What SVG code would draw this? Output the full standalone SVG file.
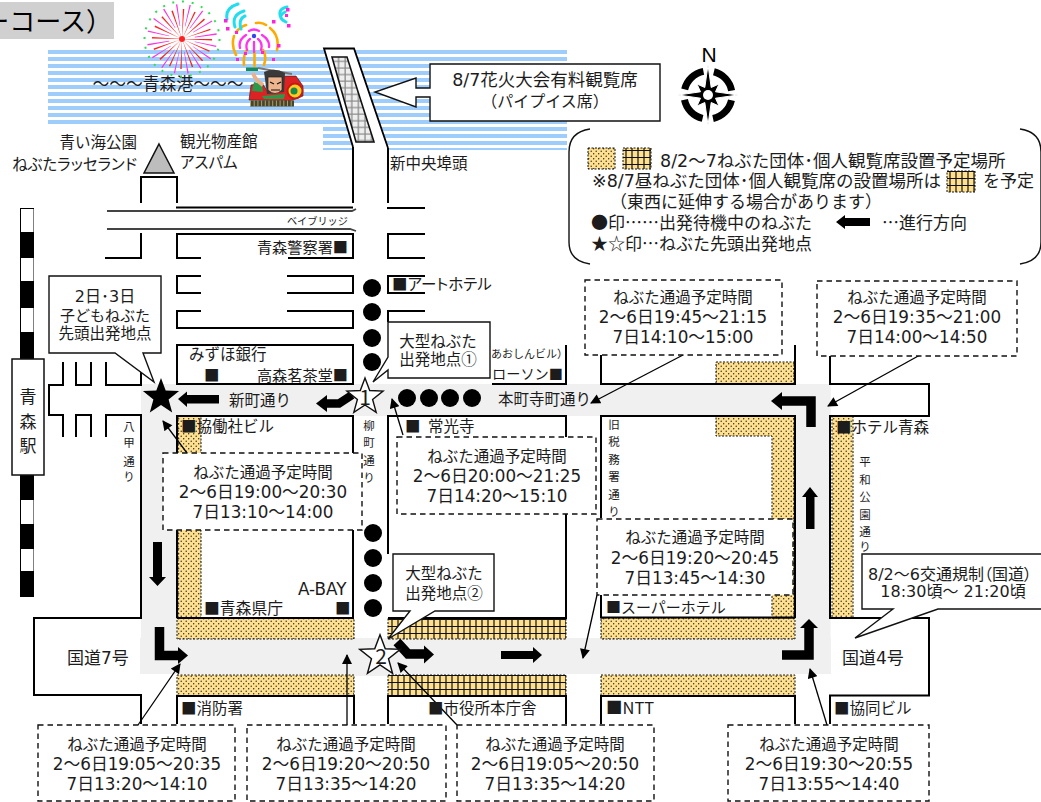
<svg xmlns="http://www.w3.org/2000/svg" xmlns:xlink="http://www.w3.org/1999/xlink" width="1041" height="802" viewBox="0 0 1041 802">
<style>
text{font-family:"Noto Sans CJK JP","Noto Sans",sans-serif;font-size:15.500px;fill:#1c1c1c}
.n{font-family:"DejaVu Sans","Noto Sans CJK JP",sans-serif;font-size:16.800px}
.p{font-feature-settings:"palt"}
.c{text-anchor:middle}
.e{text-anchor:end}
.v{font-size:11.500px;text-anchor:middle}
.l{font-size:17px}
.ln{font-size:17.500px}
.b{fill:none;stroke:#000;stroke-width:2}
.r{fill:#f0f0f0}
.d{fill:url(#dots);stroke:#111;stroke-width:1;stroke-dasharray:2 1.500}
.g{fill:url(#grid);stroke:#111;stroke-width:1;stroke-dasharray:2 1.500}
.box{fill:#fff;stroke:#111;stroke-width:1.400;stroke-dasharray:5.500 4}
.call{fill:#fff;stroke:#111;stroke-width:1.400}
.lead{fill:none;stroke:#000;stroke-width:1.300;marker-end:url(#tip)}
.arw{fill:#000}
.bent{fill:none;stroke:#000;stroke-width:9.500}
.dot{fill:#000}
</style>
<defs>
<pattern id="sea" width="10" height="7" patternUnits="userSpaceOnUse" y="1"><rect width="10" height="7" fill="#fff"/><rect y="0" width="10" height="4" fill="#9fcdfb"/></pattern>
<pattern id="dots" width="5" height="5" patternUnits="userSpaceOnUse"><rect width="5" height="5" fill="#ffe08f"/><circle cx="1.200" cy="1.200" r=".7" fill="#222"/><circle cx="3.700" cy="3.700" r=".7" fill="#222"/></pattern>
<pattern id="grid" width="6" height="7" patternUnits="userSpaceOnUse"><rect width="6" height="7" fill="#ffe08f"/><path d="M2 0V7M0 3.500H6" stroke="#111" stroke-width="1.200"/></pattern>
<pattern id="pgrid" width="6.600" height="6.600" patternUnits="userSpaceOnUse"><rect width="6.600" height="6.600" fill="#eee"/><path d="M2 0V6.600M0 2H6.600" stroke="#8a8a8a" stroke-width="1.300"/></pattern>
<marker id="tip" viewBox="0 0 10 10" refX="9" refY="5" markerWidth="11" markerHeight="10" markerUnits="userSpaceOnUse" orient="auto"><path d="M0 0L10 5L0 10Z" fill="#000"/></marker>
<polygon id="star" points="0,-19 4.700,-6.500 18.100,-5.900 7.600,2.500 11.200,15.400 0,8 -11.200,15.400 -7.600,2.500 -18.100,-5.900 -4.700,-6.500"/>
</defs>

<g id="title"><rect x="0" y="2" width="114" height="37" fill="#d0d0d0"/><text x="112" y="31" class="e" style="font-size:26px;fill:#000">ーコース）</text></g>

<g id="harbour">
<path d="M48 48H567V150H323V127H48Z" fill="url(#sea)"/>
<path d="M324 48.500H354L388 148V160H353V147Z" fill="#fff" stroke="none"/>
<path d="M353 147L324 48.500H354L388 148" fill="none" stroke="#000" stroke-width="1.800"/>
<polygon points="332,57 347,57 374,142 356,142" fill="url(#pgrid)" stroke="#111" stroke-width="1.600"/>
<text x="168" y="90" class="c" style="font-size:16.800px">～～～青森港～～～</text>
</g>

<g id="fireworks">
<circle cx="182" cy="39" r="16.500" fill="none" stroke="#ff2020" stroke-width="27" stroke-dasharray=".8 5.680"/>
<circle cx="182" cy="39" r="24" fill="none" stroke="#ff33e0" stroke-width="22" stroke-dasharray=".9 8.520" transform="rotate(11 182 39)"/>
<circle cx="182" cy="39" r="37.500" fill="none" stroke="#33dd55" stroke-width="2" stroke-dasharray="2 7.800"/>
<circle cx="182" cy="39" r="3" fill="#ff2020"/>
<g fill="none" stroke="#ffaa00" stroke-width="2.600" stroke-linecap="round">
<path d="M236 55Q231 46 234 36M236 32Q240 27 246 25M256 23Q262 22 266 25M270 28Q280 36 277 50M244 65Q243 55 247 50M254.500 66V52M264 65Q267 56 263 50"/></g>
<g fill="none" stroke="#ff33ee" stroke-width="2.300" stroke-linecap="round">
<path d="M240 48Q238 40 246 35M247 50Q245 43 250 39M254 52V42M261 50Q263 43 258 39M269 47Q270 40 262 35M249 31Q254 28 259 31"/></g>
<circle cx="254" cy="36" r="2.200" fill="#3344ee"/>
<g fill="none" stroke="#22ddee" stroke-width="3" stroke-linecap="round">
<path d="M227 19Q225 8 238 4M235 27Q231 15 244 11M241 29Q238 19 245 16M281 18Q277 9 287 7M286 22Q276 17 285 12"/></g>
<g fill="#ff22dd"><rect x="224" y="19" width="3.500" height="3.500"/><rect x="226" y="27" width="3.500" height="3.500"/><rect x="235" y="31" width="3" height="3"/><rect x="272" y="20" width="3.500" height="3.500"/><rect x="287" y="24" width="3.500" height="3.500"/><rect x="286" y="8" width="3.500" height="3.500"/><rect x="285" y="14" width="3" height="3"/><rect x="277" y="44" width="3.500" height="3.500"/><rect x="236" y="58" width="3" height="3"/><rect x="272" y="58" width="3" height="3"/><rect x="261" y="51" width="3" height="3"/><rect x="244" y="52" width="3" height="3"/></g>
</g>

<g id="nebuta">
<path d="M249 100L251 85L262 83L268 92L282 76L296 76L303 86L303 96L290 101Z" fill="#dc2222" stroke="#222" stroke-width=".6"/>
<path d="M252 91L254 82L262 84L263 92Z" fill="#2a9a4a"/>
<path d="M253 73Q255 80 263 85" fill="none" stroke="#eab08a" stroke-width="4"/>
<rect x="246" y="67.500" width="12" height="3.500" fill="#158a5a"/>
<path d="M258 68L292 74" stroke="#777" stroke-width="2"/>
<path d="M264 72Q275 67 285 73L284 92L267 94Z" fill="#3a3a3a"/>
<path d="M268 77H282V90Q275 97 268 90Z" fill="#eeb48e" stroke="#222" stroke-width=".7"/>
<path d="M270 82L274 84M281 82L277 84M271 90H280" stroke="#111" stroke-width="1.200"/>
<circle cx="295" cy="91" r="7.500" fill="#ffcc22" stroke="#c81818" stroke-width="2"/>
<circle cx="294" cy="91" r="3.500" fill="#1a8a4a"/>
<path d="M262 96L285 94L284 99H264Z" fill="#2a9a4a"/>
<rect x="250" y="100.500" width="44" height="6" fill="#4a4526"/>
<path d="M250 103.500H294" stroke="#a8a070" stroke-width="6" stroke-dasharray="1 2.700"/>
</g>

<g id="roads">
<rect class="r" x="141" y="384" width="689.500" height="32"/>
<rect class="r" x="141" y="384" width="36" height="290"/>
<rect class="r" x="140" y="638" width="691" height="36"/>
<rect class="r" x="796" y="384" width="34.500" height="290"/>
<rect class="r" x="353" y="638" width="35" height="38"/>
</g>

<g id="seats">
<rect class="d" x="177" y="618" width="177" height="21"/>
<rect class="d" x="177" y="675" width="177" height="21"/>
<rect class="d" x="178" y="416" width="23" height="202"/>
<rect class="d" x="601" y="618" width="194" height="21"/>
<rect class="d" x="601" y="675" width="194" height="21"/>
<rect class="d" x="716" y="362" width="78" height="22"/>
<path class="d" d="M716 416H794V618H772V436H716Z"/>
<rect class="d" x="832" y="416" width="21" height="202"/>
<rect class="g" x="388" y="618" width="178" height="21"/>
<rect class="g" x="388" y="675" width="178" height="21"/>
</g>

<g id="blocks">
<path class="b" d="M141 203V177H177V203"/>
<path class="b" d="M176 207.500H353"/>
<path d="M107 211H352L356 209M107 229H350L356 231" fill="none" stroke="#444" stroke-width="1.800"/>
<path class="b" d="M353 147V203M388 148V203M387 208H425"/>
<path class="b" d="M201 258H177V234H353V258H288"/>
<path class="b" d="M425 234H388V258H425"/>
<path class="b" d="M105 258H141V233"/>
<path class="b" d="M201 276H177V293H201M287 276H353V293H287"/>
<path class="b" d="M201 311H177V328H353V311H287"/>
<rect class="b" x="177" y="345" width="176" height="39"/>
<path class="b" d="M425 276H388V293H425M425 311H388V322"/>
<path class="b" d="M492 384H566V345"/>
<path class="b" d="M601 355V384H795V345"/>
<path class="b" d="M601 518V416H795V618M601 595V617.500H795"/>
<path class="b" d="M830 356V384H929V416H830V618H929V695.500H830V724"/>
<path class="b" d="M388 554V416H566V618H388"/>
<path class="b" d="M106 362V385H141V370M91 362V385H76V362M63 362V385H49V415H63V437M76 437V415H91V437M106 437V415H141V618H34V695H141V724"/>
<path class="b" d="M177 618V416H353V618H177"/>
<path class="b" d="M177 724V696H354V724M388 724V696H566V724M601 724V696H795V724"/>
</g>

<g id="railway">
<rect x="20" y="208" width="14" height="389" fill="#000"/>
<g fill="#fff"><rect x="21" y="209" width="12.500" height="23"/><rect x="21" y="258" width="12.500" height="23"/><rect x="21" y="308" width="12.500" height="24"/><rect x="21" y="500" width="12.500" height="24"/><rect x="21" y="549" width="12.500" height="22"/></g>
</g>

<g id="station"><rect x="12" y="359" width="32" height="116" fill="#fff" stroke="#111" stroke-width="1.500"/>
<text x="28" y="403" class="c" style="font-size:17px">青</text><text x="28" y="428" class="c" style="font-size:17px">森</text><text x="28" y="452" class="c" style="font-size:17px">駅</text></g>

<g id="aspam"><polygon points="159,144 174,173 144,173" fill="#bdbdbd" stroke="#111" stroke-width="1.500"/></g>

<g id="waiting-floats">
<circle class="dot" cx="372" cy="288" r="9"/><circle class="dot" cx="372" cy="312" r="9"/><circle class="dot" cx="372" cy="338" r="9"/><circle class="dot" cx="372" cy="362" r="9"/>
<circle class="dot" cx="373" cy="533" r="9"/><circle class="dot" cx="373" cy="558" r="9"/><circle class="dot" cx="373" cy="583" r="9"/><circle class="dot" cx="373" cy="608" r="9"/>
<circle class="dot" cx="407" cy="398" r="9"/><circle class="dot" cx="429" cy="398" r="9"/><circle class="dot" cx="450" cy="398" r="9"/><circle class="dot" cx="472" cy="398" r="9"/>
</g>

<g id="direction-arrows">
<path class="arw" d="M178 399L187 391.500V395H219V403.500H187V407Z"/>
<path class="bent" style="stroke-width:8.500" d="M325 403.500H339L352 395"/><path class="arw" d="M316 403.500L327 395V412Z"/>
<path class="arw" d="M153 542H162V577H166L157.500 586L149 577H153Z"/>
<path class="bent" d="M159.500 627V655.500H180"/><path class="arw" d="M188 655.500L178 647V664Z"/>
<path class="bent" d="M397 642L408 654H425"/><path class="arw" d="M434 654.500L424 645.500V663.500Z"/>
<path class="arw" d="M501 651H533V647L542 655L533 663V659H501Z"/>
<path class="bent" d="M782 655H809V626"/><path class="arw" d="M809 619L818 628H800Z"/>
<path class="arw" d="M806 529H814.500V497H818L810 487L802 497H806Z"/>
<path class="bent" d="M811 427V401H781"/><path class="arw" d="M771 401L782 392V410Z"/>
</g>

<g id="connectors">
<path class="lead" d="M187 453L163 421"/>
<path class="lead" d="M138 725L180 664"/>
<path class="lead" d="M347 725V655"/>
<path class="lead" d="M457 725L398 663"/>
<path class="lead" d="M827 725L810 669"/>
<path class="lead" d="M683 355L591 403"/>
<path class="lead" d="M920 355L828 406"/>
<path class="lead" d="M403 435L392 399"/>
<path class="lead" d="M597 595L583 658"/>
</g>

<g id="start-stars">
<use xlink:href="#star" href="#star" transform="translate(161 397)" fill="#000"/>
<use xlink:href="#star" href="#star" transform="translate(365 397)" fill="#fff" stroke="#111" stroke-width="1.400"/>
<text x="365" y="405" class="c" style="font-size:21px">1</text>
<use xlink:href="#star" href="#star" transform="translate(380 656) scale(1.120)" fill="#fff" stroke="#111" stroke-width="1.300"/>
<text x="381" y="664" class="c" style="font-size:21px">2</text>
</g>

<g id="labels">
<text x="137" y="148" class="e">青い海公園</text>
<text x="137" y="170" class="e p">ねぶたラッセランド</text>
<text x="180" y="147">観光物産館</text>
<text x="180" y="168" class="p">アスパム</text>
<text x="390" y="169">新中央埠頭</text>
<text x="348" y="225" class="e" style="font-size:10.200px">ベイブリッジ</text>
<text x="348" y="253" class="e" style="font-size:15.200px">青森警察署■</text>
<text x="392" y="290" class="p">■アートホテル</text>
<text x="189" y="360">みずほ銀行</text>
<text x="204" y="381">■</text>
<text x="348" y="381" class="e" style="font-size:15.200px">高森茗茶堂■</text>
<text x="229" y="406">新町通り</text>
<text x="498" y="405">本町寺町通り</text>
<text x="491" y="358" style="font-size:11px">あおしんビル）</text>
<text x="492" y="379" style="font-size:14.200px">ローソン■</text>
<text x="181" y="432">■協働社ビル</text>
<text x="405" y="432">■</text><text x="428" y="432">常光寺</text>
<text x="836" y="433">■ホテル青森</text>
<text x="204" y="614" style="font-size:15.800px">■青森県庁</text>
<text x="298" y="595" class="n">A-BAY</text>
<text x="335" y="614">■</text>
<text x="67" y="664" class="n" style="font-size:17px">国道7号</text>
<text x="842" y="664" class="n" style="font-size:17px">国道4号</text>
<text x="181" y="714">■消防署</text>
<text x="428" y="714">■市役所本庁舎</text>
<text x="606" y="714" style="font-size:16.500px">■NTT</text>
<text x="606" y="613" style="font-size:15px">■スーパーホテル</text>
<text x="834" y="714">■協同ビル</text>
<text x="129" y="431" class="v">八</text><text x="129" y="447" class="v">甲</text><text x="129" y="466" class="v">通</text><text x="129" y="481" class="v">り</text>
<text x="369" y="430" class="v">柳</text><text x="369" y="447" class="v">町</text><text x="369" y="465" class="v">通</text><text x="369" y="482" class="v">り</text>
<text x="614" y="429" class="v">旧</text><text x="614" y="446" class="v">税</text><text x="614" y="464" class="v">務</text><text x="614" y="481" class="v">署</text><text x="614" y="499" class="v">通</text><text x="614" y="516" class="v">り</text>
<text x="865" y="466" class="v">平</text><text x="865" y="484" class="v">和</text><text x="865" y="501" class="v">公</text><text x="865" y="519" class="v">園</text><text x="865" y="536" class="v">通</text><text x="865" y="551" class="v">り</text>
</g>

<g id="box-shinmachi"><rect class="box" x="163" y="453" width="199" height="77"/><text x="263" y="478" class="c">ねぶた通過予定時間</text><text x="263" y="498" class="c n">2～6日19:00～20:30</text><text x="263" y="518" class="c n">7日13:10～14:00</text></g>
<g id="box-kokudo7"><rect class="box" x="38" y="725" width="197" height="76"/><text x="137" y="750" class="c">ねぶた通過予定時間</text><text x="137" y="770" class="c n">2～6日19:05～20:35</text><text x="137" y="790" class="c n">7日13:20～14:10</text></g>
<g id="box-yanagi-west"><rect class="box" x="247" y="725" width="199" height="76"/><text x="346" y="750" class="c">ねぶた通過予定時間</text><text x="346" y="770" class="c n">2～6日19:20～20:50</text><text x="346" y="790" class="c n">7日13:35～14:20</text></g>
<g id="box-yanagi-east"><rect class="box" x="457" y="725" width="197" height="76"/><text x="555" y="750" class="c">ねぶた通過予定時間</text><text x="555" y="770" class="c n">2～6日19:05～20:50</text><text x="555" y="790" class="c n">7日13:35～14:20</text></g>
<g id="box-kokudo4"><rect class="box" x="728" y="725" width="201" height="76"/><text x="829" y="750" class="c">ねぶた通過予定時間</text><text x="829" y="770" class="c n">2～6日19:30～20:55</text><text x="829" y="790" class="c n">7日13:55～14:40</text></g>
<g id="box-honcho"><rect class="box" x="585" y="280" width="197" height="75"/><text x="683" y="303" class="c">ねぶた通過予定時間</text><text x="683" y="323" class="c n">2～6日19:45～21:15</text><text x="683" y="343" class="c n">7日14:10～15:00</text></g>
<g id="box-heiwa"><rect class="box" x="817" y="281" width="200" height="75"/><text x="917" y="303" class="c">ねぶた通過予定時間</text><text x="917" y="323" class="c n">2～6日19:35～21:00</text><text x="917" y="343" class="c n">7日14:00～14:50</text></g>
<g id="box-jokoji"><rect class="box" x="397" y="437" width="199" height="77"/><text x="497" y="462" class="c">ねぶた通過予定時間</text><text x="497" y="482" class="c n">2～6日20:00～21:25</text><text x="497" y="502" class="c n">7日14:20～15:10</text></g>
<g id="box-super"><rect class="box" x="597" y="519" width="196" height="76"/><text x="695" y="543" class="c">ねぶた通過予定時間</text><text x="695" y="564" class="c n">2～6日19:20～20:45</text><text x="695" y="584" class="c n">7日13:45～14:30</text></g>

<g id="callout-children"><path class="call" d="M49 276H161V353H143L154 382L115 353H49Z"/><text x="105" y="302" class="c n" style="font-size:16px">2日･3日</text><text x="105" y="321" class="c" style="font-size:15px">子どもねぶた</text><text x="105" y="339" class="c">先頭出発地点</text></g>
<g id="callout-start1"><path class="call" d="M388 322H490V378H388V370L373 382L388 357Z"/><text x="438" y="347" class="c">大型ねぶた</text><text x="438" y="365" class="c">出発地点①</text></g>
<g id="callout-start2"><path class="call" d="M393 554H494V611H435L388 639L410 611H393Z"/><text x="444" y="579" class="c">大型ねぶた</text><text x="444" y="599" class="c">出発地点②</text></g>
<g id="callout-traffic"><path class="call" d="M1045 554H862V609H893L855 638L938 609H1045Z"/><text x="868" y="580" class="n p" style="font-size:16px">8/2～6交通規制（国道）</text><text x="953" y="597" class="c n" style="font-size:16px">18:30頃～ 21:20頃</text></g>
<g id="callout-pipe"><path class="call" d="M430 88V64H660V121H430V97H416V107L375 92L416 78V88Z"/><text x="545" y="86" class="c n" style="font-size:17.500px">8/7花火大会有料観覧席</text><text x="545" y="107" class="c" style="font-size:16px">（パイプイス席）</text></g>

<g id="compass"><text x="709" y="62" class="c" style="font-family:'Liberation Sans',sans-serif;font-size:21px;fill:#000">N</text>
<g transform="translate(708 95)"><circle r="24" fill="none" stroke="#000" stroke-width="7" stroke-dasharray="27 10.700" stroke-dashoffset="-5.300"/><polygon points="0,-30 3.200,-7.500 11,-11 7.500,-3.200 30,0 7.500,3.200 11,11 3.200,7.500 0,30 -3.200,7.500 -11,11 -7.500,3.200 -30,0 -7.500,-3.200 -11,-11 -3.200,-7.500" fill="#000" stroke="#fff" stroke-width="1"/><circle r="5" fill="#fff"/></g></g>

<g id="legend">
<path d="M590 129Q569 132 569 152V242Q569 261 590 264M1020 129Q1041 132 1041 152V242Q1041 261 1020 264" fill="none" stroke="#111" stroke-width="1.400"/>
<rect class="d" x="588" y="148" width="27" height="21"/><rect class="g" x="623" y="148" width="28" height="21"/>
<text x="660" y="167" class="n ln">8/2～7ねぶた団体･個人観覧席設置予定場所</text>
<text x="592" y="187" class="n ln">※8/7昼ねぶた団体･個人観覧席の設置場所は</text>
<rect class="g" x="947" y="171" width="28" height="21"/>
<text x="983" y="187" class="l">を予定</text>
<text x="610" y="208" class="l">（東西に延伸する場合があります）</text>
<text x="591" y="229" class="l">●印……出発待機中のねぶた</text>
<path class="arw" d="M836 222L845 215V218H870V226H845V229Z"/>
<text x="882" y="229" class="l">…進行方向</text>
<text x="591" y="250" class="l">★☆印…ねぶた先頭出発地点</text>
</g>
</svg>
